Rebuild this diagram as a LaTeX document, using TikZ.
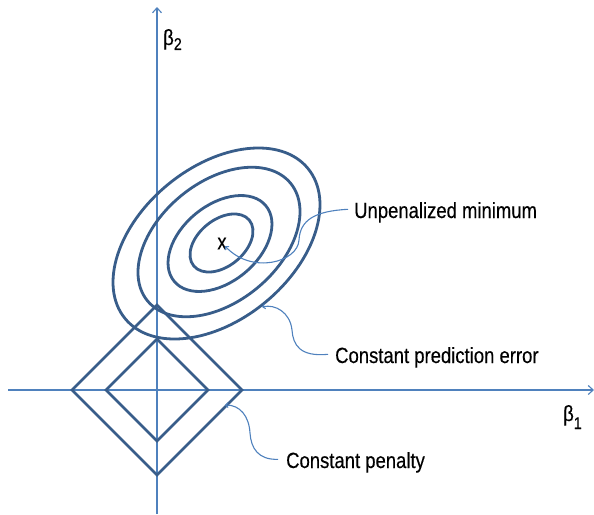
\documentclass[tikz,border=0pt]{standalone}
\usepackage{fontspec}
\setmainfont[FakeStretch=0.84,FakeBold=0.3]{Liberation Sans}
\usetikzlibrary{arrows.meta}
\definecolor{axisblue}{RGB}{79,129,189}
\definecolor{shapeblue}{RGB}{56,93,138}
\begin{document}
\begin{tikzpicture}[x=1pt,y=-1pt,
  axisline/.style={axisblue,line width=1.4pt,-{Straight Barb[length=5pt,width=9pt,line width=1.1pt]}},
  contour/.style={shapeblue,line width=2.8pt},
  callout/.style={axisblue,line width=1.1pt,-{Straight Barb[length=2.5pt,width=5pt,line width=1pt]}},
  lbl/.style={font=\fontsize{22}{26}\selectfont,inner sep=0pt,anchor=base west}]
\useasboundingbox (0,0) rectangle (594,514);
% axes
\coordinate (xs) at (8,390);
\coordinate (xe) at (594,390);
\coordinate (ys) at (157,514);
\coordinate (ye) at (157,7);
\draw[axisline] (xs) -- (xe);
\draw[axisline] (ys) -- (ye);
\node[lbl] (b2) at (163,45) {β\raisebox{-5pt}{\fontsize{17}{20}\selectfont 2}};
\node[lbl] (b1) at (563,421) {β\raisebox{-8pt}{\fontsize{17}{20}\selectfont 1}};
% ellipses
\draw[contour,rotate around={39.4:(216.5,243.5)}] (216.5,243.5) ellipse [x radius=118.3pt,y radius=76.4pt];
\draw[contour,rotate around={39.4:(219,242)}] (219,242) ellipse [x radius=92.6pt,y radius=59.8pt];
\draw[contour,rotate around={39.4:(220,243.5)}] (220,243.5) ellipse [x radius=59.4pt,y radius=38.4pt];
\draw[contour,rotate around={39.4:(221.5,243)}] (221.5,243) ellipse [x radius=36pt,y radius=23.2pt];
% diamonds
\draw[contour,line join=miter] (157,305) -- (242,390) -- (157,475) -- (72,390) -- cycle;
\draw[contour,line join=miter] (157,339) -- (208,390) -- (157,441) -- (106,390) -- cycle;
% minimum marker
\node[font=\fontsize{22}{26}\selectfont,inner sep=0pt] (mx) at (222,243.5) {x};
% labels
\node[lbl] (um) at (354,218) {Unpenalized minimum};
\node[lbl] (cpe) at (335,363) {Constant prediction error};
\node[lbl] (cp) at (286,468) {Constant penalty};
% callouts
\coordinate (t1) at (225,246);
\coordinate (t2) at (262,307);
\coordinate (t3) at (225,405);
\draw[callout] ([xshift=-6pt,yshift=3pt]um.west) .. controls (315,211) and (300,220) .. (299,240) .. controls (298,262) and (252,275) .. (t1);
\draw[callout] ([xshift=-7pt,yshift=3pt]cpe.west) .. controls (300,357) and (293,345) .. (292,330) .. controls (290,312) and (275,304) .. (t2);
\draw[callout] ([xshift=-8pt,yshift=3pt]cp.west) .. controls (258,460) and (251,448) .. (250,433) .. controls (249,416) and (240,405) .. (t3);
\end{tikzpicture}
\end{document}
